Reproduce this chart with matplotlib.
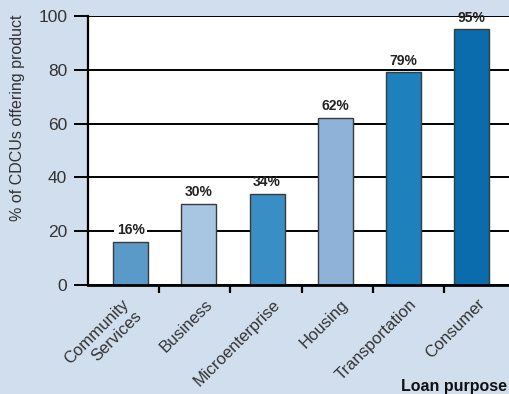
"""Share of CDCUs offering each loan product, by loan purpose."""
import numpy as np
import matplotlib
matplotlib.use("Agg")
import matplotlib.pyplot as plt  # noqa: E402
from matplotlib.transforms import ScaledTranslation  # noqa: E402

plt.rcParams["font.family"] = ["Liberation Sans", "DejaVu Sans"]

purposes = ["Community\nServices", "Business", "Microenterprise", "Housing",
            "Transportation", "Consumer"]
pct = [16, 30, 34, 62, 79, 95]
bar_labels = ["16%", "30%", "34%", "62%", "79%", "95%"]
colors = ["#5a9ac8", "#a8c6e2", "#3a8ec6", "#8fb3d8", "#1e80bd", "#0a6cad"]
yticks = [0, 20, 40, 60, 80, 100]

BG = "#d1deee"
W, H = 510, 394

fig = plt.figure(figsize=(W / 100, H / 100), dpi=100, facecolor=BG)
ax = fig.add_axes([88 / W, (H - 285) / H, (W - 88) / W, 269 / H])
ax.set_facecolor("white")

x = np.arange(len(pct))
ax.set_axisbelow(True)
ax.yaxis.grid(True, color="black", lw=1.4)
ax.bar(x, pct, 0.51, color=colors, edgecolor="#3a3a3a", lw=1.0, zorder=2)

for xi, v, lab in zip(x, pct, bar_labels):
    bbox = dict(facecolor="white", edgecolor="none", pad=2) if v < 20 else None
    ax.text(xi, v + 1.8, lab, ha="center", va="bottom", fontsize=10,
            fontweight="bold", color="#222222", bbox=bbox, zorder=3)

ax.set_xlim(-0.625, 5.56)
ax.set_ylim(0, 100)
ax.set_yticks(yticks)
ax.tick_params(axis="y", length=10, width=1.4, labelsize=12.5, pad=5,
               labelcolor="#333333")

# category labels sit under bar centres; tick marks are offset from them
ax.set_xticks(x)
ax.set_xticklabels(purposes, rotation=45, ha="right", rotation_mode="anchor",
                   fontsize=12, color="#333333")
ax.tick_params(axis="x", which="major", length=0, pad=0)
for i, t in enumerate(ax.get_xticklabels()):
    dx = -0.09 if i == 0 else 0.055
    t.set_transform(t.get_transform()
                    + ScaledTranslation(dx, -0.115, fig.dpi_scale_trans))
ax.set_xticks([0.415, 1.455, 2.51, 3.55, 4.6], minor=True)
ax.tick_params(axis="x", which="minor", length=6, width=1.6, direction="out")

for side in ["top", "right"]:
    ax.spines[side].set_visible(False)
ax.spines["left"].set_linewidth(1.6)
ax.spines["bottom"].set_linewidth(2.0)

fig.text(18 / W, 1 - 118 / H, "% of CDCUs offering product", rotation=90,
         ha="center", va="center", fontsize=11.5, color="#333333")
fig.text(401 / W, 1 - 387 / H, "Loan purpose", ha="left", va="center",
         fontsize=11.5, fontweight="bold", color="#111111")

fig.savefig("out.png", dpi=100, facecolor=BG)
